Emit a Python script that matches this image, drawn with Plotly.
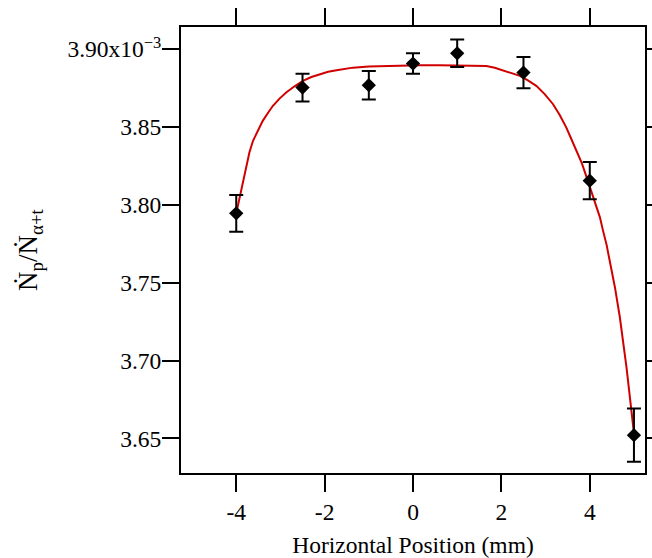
import plotly.graph_objects as go

# Measured data (ratio in units of 1e-3)
pos_mm = [-4.0, -2.5, -1.0, 0.0, 1.0, 2.5, 4.0, 5.0]
ratio = [3.7946, 3.8754, 3.8769, 3.8908, 3.8974, 3.8850, 3.8156, 3.6521]
ratio_err = [0.0118, 0.0089, 0.0091, 0.0066, 0.0088, 0.0101, 0.0120, 0.0171]

# Fit curve
fit_x = [-4.0, -3.96, -3.92, -3.85, -3.77, -3.70, -3.62, -3.50, -3.40, -3.28, -3.17, -3.02, -2.87,
         -2.68, -2.49, -2.30, -2.11, -1.92, -1.73, -1.55, -1.36, -1.0, -0.60, -0.2, 0.15, 0.6,
         1.0, 1.35, 1.66, 1.85, 2.04, 2.23, 2.42, 2.60, 2.79, 2.98, 3.17, 3.32, 3.47, 3.58,
         3.70, 3.82, 3.93, 4.04, 4.15, 4.23, 4.30, 4.38, 4.45, 4.57, 4.68, 4.76, 4.83, 4.89,
         4.94, 4.97, 5.0]
fit_y = [3.7946, 3.8000, 3.8049, 3.8160, 3.8263, 3.8340, 3.8412, 3.8485, 3.8540, 3.8592, 3.8637,
         3.8683, 3.8722, 3.8762, 3.8797, 3.8822, 3.8840, 3.8855, 3.8865, 3.8874, 3.8882, 3.8889,
         3.8893, 3.8896, 3.8897, 3.8897, 3.8897, 3.8896, 3.8893, 3.8881, 3.8865, 3.8849, 3.8829,
         3.8800, 3.8765, 3.8712, 3.8647, 3.8578, 3.8497, 3.8425, 3.8348, 3.8268, 3.8177, 3.8085,
         3.7985, 3.7920, 3.7835, 3.7745, 3.7643, 3.7470, 3.7280, 3.7120, 3.6959, 3.6810, 3.6681,
         3.6600, 3.6532]

x_ticks = [-4, -2, 0, 2, 4]
y_ticks = [3.65, 3.70, 3.75, 3.80, 3.85, 3.90]
y_ticktext = ["3.65", "3.70", "3.75", "3.80", "3.85", "3.90x10<sup>−3</sup>"]

FONT = "Liberation Serif"
FS = 23.5

fig = go.Figure()
fig.add_trace(go.Scatter(
    x=fit_x, y=fit_y, mode="lines",
    line=dict(color="#d00000", width=2),
    showlegend=False, hoverinfo="skip"))
fig.add_trace(go.Scatter(
    x=pos_mm, y=ratio, mode="markers",
    marker=dict(symbol="diamond", size=11, color="black"),
    error_y=dict(type="data", array=ratio_err, color="black", thickness=2, width=7),
    showlegend=False))

axis_common = dict(
    showline=True, linecolor="black", linewidth=2, mirror="ticks",
    ticks="outside", ticklen=17, tickwidth=2, tickcolor="black",
    showgrid=False, zeroline=False, automargin=False,
    tickfont=dict(family=FONT, size=FS, color="black"),
)

fig.update_xaxes(
    range=[-5.25, 5.25], tickvals=x_ticks, ticktext=[str(v) for v in x_ticks],
    title=dict(text="Horizontal Position (mm)", font=dict(family=FONT, size=FS, color="black"), standoff=12),
    **axis_common)
fig.update_yaxes(
    range=[3.6278, 3.9143], tickvals=y_ticks, ticktext=y_ticktext,
    ticklabelstandoff=-4,
    title=dict(text="Ṅ<sub>p</sub>/Ṅ<sub>α+t</sub>",
               font=dict(family=FONT, size=27, color="black"), standoff=22),
    **axis_common)

fig.update_layout(
    width=652, height=558,
    margin=dict(l=181, r=7, t=27, b=85),
    plot_bgcolor="white", paper_bgcolor="white",
    font=dict(family=FONT, size=FS, color="black"),
)

fig.write_html("out.html")
